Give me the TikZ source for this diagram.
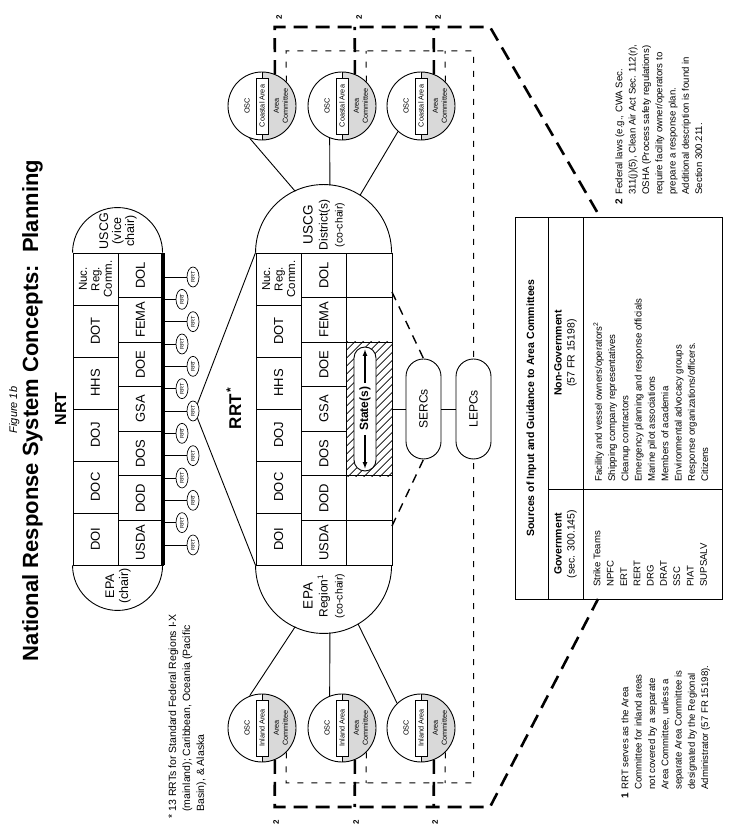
\documentclass[tikz,border=0pt]{standalone}
\usepackage{fontspec}
\setmainfont{Liberation Sans}
\usetikzlibrary{shapes.geometric, arrows}
\tikzstyle{cella} = [rectangle, draw=black, minimum width=52pt, minimum height=45pt, inner sep=0pt, align=center, font=\fontsize{13}{14}\selectfont, node distance=52pt]
\tikzstyle{cellb} = [cella, minimum width=44.57pt, node distance=44.57pt]
\tikzstyle{cellc} = [cella, minimum height=45.33pt]
\tikzstyle{celld} = [cellb, minimum height=45.33pt]
\tikzstyle{rrtnode} = [ellipse, draw=black, minimum width=20pt, minimum height=12pt, inner sep=0pt, line width=0.7pt, font=\fontsize{5.5}{5.5}\selectfont]
\tikzstyle{osc} = [circle, draw=black, minimum size=68pt, inner sep=0pt]
\tikzstyle{areabox} = [rectangle, draw=black, fill=white, minimum width=56pt, minimum height=12pt, inner sep=0pt, font=\fontsize{7.3}{7.3}\selectfont]
\tikzstyle{osclabel} = [align=center, inner sep=0pt, font=\fontsize{7.3}{9}\selectfont]
\tikzstyle{pill} = [rectangle, rounded corners=17.5pt, draw=black, minimum width=100pt, minimum height=35pt, font=\fontsize{12}{12}\selectfont]
\tikzstyle{hub} = [circle, minimum size=136pt, inner sep=0pt, outer sep=0pt]
\tikzstyle{tablecell} = [rectangle, draw=black, inner sep=0pt, align=center, font=\fontsize{10.5}{13}\selectfont]
\tikzstyle{note} = [align=left, anchor=north west, inner sep=0pt, font=\fontsize{9.6}{13.3}\selectfont]
\tikzstyle{fnmark} = [inner sep=0pt, font=\bfseries\fontsize{8}{8}\selectfont]
\tikzstyle{bigdash} = [line width=2.6pt, dash pattern=on 14pt off 8pt]
\tikzstyle{smalldash} = [line width=1pt, dash pattern=on 6pt off 8pt]
\tikzstyle{middash} = [line width=1.4pt, dash pattern=on 9pt off 7pt]

\begin{document}
\begin{tikzpicture}[x=1pt, y=1pt, rotate=90, transform shape, line width=0.9pt]
\useasboundingbox (0,-729) rectangle (832,0);

% headings
\node (fig) [anchor=base, font=\itshape\fontsize{11}{11}\selectfont] at (422,-17) {Figure 1b};
\node (title) [anchor=base, font=\bfseries\fontsize{22}{22}\selectfont] at (421.5,-38) {National Response System Concepts:\ \ Planning};
\node (nrtlabel) [anchor=base, font=\bfseries\fontsize{16}{16}\selectfont] at (423,-66) {NRT};

% NRT
\node (ndoi) [cella] at (293,-95.5) {DOI};
\node (ndoc) [cella, right of=ndoi] {DOC};
\node (ndoj) [cella, right of=ndoc] {DOJ};
\node (nhhs) [cella, right of=ndoj] {HHS};
\node (ndot) [cella, right of=nhhs] {DOT};
\node (nnuc) [cella, right of=ndot, font=\fontsize{11.5}{12.5}\selectfont] {Nuc.\\Reg.\\Comm.};
\node (nusda) [cellb] at (289.29,-140.5) {USDA};
\node (ndod) [cellb, right of=nusda] {DOD};
\node (ndos) [cellb, right of=ndod] {DOS};
\node (ngsa) [cellb, right of=ndos] {GSA};
\node (ndoe) [cellb, right of=ngsa] {DOE};
\node (nfema) [cellb, right of=ndoe] {FEMA};
\node (ndol) [cellb, right of=nfema] {DOL};
\draw (ndoi.north west) arc[start angle=90, end angle=270, radius=45];
\draw (nnuc.north east) arc[start angle=90, end angle=-90, radius=45];
\draw [line width=4pt] (nusda.south west) -- (ndol.south east);
\node (nepa) [align=center, font=\fontsize{12.5}{14}\selectfont] at (246,-118) {EPA\\(chair)};
\node (nuscg) [align=center, font=\fontsize{12.5}{13}\selectfont] at (601,-118) {USCG\\(vice\\chair)};

% the 13 RRTs
\foreach \k in {0,...,12} {
  \pgfmathsetmacro{\ru}{555-22.33*\k}
  \pgfmathsetmacro{\rt}{mod(\k,2)==0 ? -193 : -182}
  \pgfmathsetmacro{\rs}{mod(\k,2)==0 ? 24 : 13}
  \node (rrt\k) [rrtnode] at (\ru,\rt) {RRT};
  \draw (rrt\k.north) -- ++(0,\rs);
}

% RRT
\node (rrtlabel) [anchor=base, font=\bfseries\fontsize{17}{17}\selectfont] at (424,-241) {RRT\textsuperscript{\,*}};
\node (rdoi) [cellc] at (293,-278.67) {DOI};
\node (rdoc) [cellc, right of=rdoi] {DOC};
\node (rdoj) [cellc, right of=rdoc] {DOJ};
\node (rhhs) [cellc, right of=rdoj] {HHS};
\node (rdot) [cellc, right of=rhhs] {DOT};
\node (rnuc) [cellc, right of=rdot, font=\fontsize{11.5}{12.5}\selectfont] {Nuc.\\Reg.\\Comm.};
\node (rusda) [celld] at (289.29,-324) {USDA};
\node (rdod) [celld, right of=rusda] {DOD};
\node (rdos) [celld, right of=rdod] {DOS};
\node (rgsa) [celld, right of=rdos] {GSA};
\node (rdoe) [celld, right of=rgsa] {DOE};
\node (rfema) [celld, right of=rdoe] {FEMA};
\node (rdol) [celld, right of=rfema] {DOL};
\node (re1) [celld] at (289.29,-369.33) {};
\node (re2) [celld, right of=re1] {};
\node (stbox) [rectangle, draw=black, minimum width=133.71pt, minimum height=45.33pt, inner sep=0pt] at (423,-369.33) {};
\node (re6) [celld] at (512.14,-369.33) {};
\node (re7) [celld, right of=re6] {};
\begin{scope}
  \clip (stbox.south west) rectangle (stbox.north east);
  \foreach \a in {306,314,...,490} \draw [line width=0.6pt] (\a,-346.67) -- ++(46,-46);
\end{scope}
\draw [line width=1.6pt] (re1.south west) -- (re7.south east);
\draw (rdoi.north west) arc[start angle=90, end angle=270, radius=68];
\draw (rnuc.north east) arc[start angle=90, end angle=-90, radius=68];
\node (rhubl) [hub] at (267,-324) {};
\node (rhubr) [hub] at (579,-324) {};
\node (repa) [align=center, font=\fontsize{12}{15}\selectfont] at (236,-324) {{\fontsize{13.5}{15}\selectfont EPA}\\Region\textsuperscript{1}\\{\fontsize{10.5}{15}\selectfont (co-chair)}};
\node (ruscg) [align=center, font=\fontsize{12}{15}\selectfont] at (607,-324) {{\fontsize{13.5}{15}\selectfont USCG}\\District(s)\\{\fontsize{10.5}{15}\selectfont (co-chair)}};
\draw (rrt6.south west) -- (rdoi.north west);
\draw (rrt6.south east) -- (rnuc.north east);

% State(s), SERCs, LEPCs
\node (state) [rectangle, rounded corners=11pt, draw=black, fill=white, minimum width=124pt, minimum height=22pt, inner sep=0pt] at (423,-365) {};
\node (stxt) [font=\bfseries\fontsize{12}{12}\selectfont] at (423,-365) {State(s)};
\draw [-latex, line width=1.2pt, shorten >=3pt] (stxt) -- (state.west);
\draw [-latex, line width=1.2pt, shorten >=3pt] (stxt) -- (state.east);
\node (serc) [pill] at (423,-423.5) {SERCs};
\node (lepc) [pill] at (423,-473.5) {LEPCs};
\draw (stbox.south) -- (serc.north);
\draw (serc.south) -- (lepc.north);
\coordinate (dsa) at (540,-392);
\coordinate (dsb) at (306,-392);
\draw [middash] (dsa) -- (serc.east);
\draw [middash] (dsb) -- (serc.west);

% OSC circles
\foreach \cy/\ci in {-262/1, -342/2, -421/3} {
  \fill [gray!30] (726,\cy) ++(-34,0) arc[start angle=180, end angle=360, radius=34] -- cycle;
  \node (cst\ci) [osc] at (726,\cy) {};
  \draw (cst\ci.west) -- (cst\ci.east);
  \node [areabox] at (726,\cy) {Coastal Area};
  \node [osclabel] at (726,{\cy+15}) {OSC};
  \node [osclabel] at (726,{\cy-19}) {Area\\Committee};
  \fill [gray!30] (104,\cy) ++(-34,0) arc[start angle=180, end angle=360, radius=34] -- cycle;
  \node (inl\ci) [osc] at (104,\cy) {};
  \draw (inl\ci.west) -- (inl\ci.east);
  \node [areabox] at (104,\cy) {Inland Area};
  \node [osclabel] at (104,{\cy+15}) {OSC};
  \node [osclabel] at (104,{\cy-19}) {Area\\Committee};
  \coordinate (tk\ci) at (805,{\cy-12.7});
  \coordinate (tn\ci) at (781,{\cy-24});
  \coordinate (bk\ci) at (25,{\cy-12.7});
  \coordinate (bn\ci) at (49,{\cy-24});
  \node [fnmark] at (815,{\cy-17}) {2};
  \node [fnmark] at (10,{\cy-14}) {2};
}
\draw (rhubr.25) -- (cst1.159);
\draw (rhubr.-5) -- (cst2.159);
\draw (rhubr.-32) -- (cst3.138);
\draw (rhubl.155) -- (inl1.21);
\draw (rhubl.185) -- (inl2.21);
\draw (rhubl.210) -- (inl3.44);

% table
\node (tbltitle) [tablecell, minimum width=382pt, minimum height=33pt, font=\bfseries\fontsize{10.5}{13}\selectfont] at (424,-531.5) {Sources of Input and Guidance to Area Committees};
\node (govhead) [tablecell, minimum width=110pt, minimum height=35pt] at (288,-565.5) {\textbf{Government}\\(sec. 300.145)};
\node (ngovhead) [tablecell, minimum width=272pt, minimum height=35pt] at (479,-565.5) {\textbf{Non-Government}\\(57 FR 15198)};
\node (govbody) [tablecell, minimum width=110pt, minimum height=139pt] at (288,-652.5) {};
\node (ngovbody) [tablecell, minimum width=272pt, minimum height=139pt] at (479,-652.5) {};
\node (govlist) [note] at (245,-593) {Strike Teams\\NPFC\\ERT\\RERT\\DRG\\DRAT\\SSC\\PIAT\\SUPSALV};
\node (ngovlist) [note] at (350,-593) {Facility and vessel owners/operators\textsuperscript{2}\\Shipping company representatives\\Cleanup contractors\\Emergency planning and response officials\\Marine pilot associations\\Members of academia\\Environmental advocacy groups\\Response organizations/officers.\\Citizens};

% dashed links
\coordinate (tkc) at (805,-490);
\coordinate (tke) at (615,-600);
\coordinate (bkc) at (25,-490);
\coordinate (bke) at (233,-598);
\coordinate (tnc) at (781,-473.5);
\coordinate (bnc) at (49,-473.5);
\draw [bigdash] (cst1.-22) -- (tk1) -- (tkc) -- (tke);
\draw [bigdash] (cst2.-22) -- (tk2);
\draw [bigdash] (cst3.-22) -- (tk3);
\draw [smalldash] (cst1.-45) -- (tn1) -- (tnc) -- (lepc.east);
\draw [smalldash] (cst2.-45) -- (tn2);
\draw [smalldash] (cst3.-45) -- (tn3);
\draw [bigdash] (inl1.202) -- (bk1) -- (bkc) -- (bke);
\draw [bigdash] (inl2.202) -- (bk2);
\draw [bigdash] (inl3.202) -- (bk3);
\draw [smalldash] (inl1.225) -- (bn1) -- (bnc) -- (lepc.west);
\draw [smalldash] (inl2.225) -- (bn2);
\draw [smalldash] (inl3.225) -- (bn3);

% footnotes
\node (fnstar) [note, font=\fontsize{10.5}{14}\selectfont] at (20,-168) {13 RRTs for Standard Federal Regions I-X\\(mainland); Caribbean, Oceania (Pacific\\Basin), \& Alaska};
\node [anchor=north east, inner sep=0pt, font=\fontsize{10.5}{14}\selectfont] at (fnstar.north west) {*\,};
\node (fnone) [note] at (42,-621) {RRT serves as the Area\\Committee for inland areas\\not covered by a separate\\Area Committee, unless a\\separate Area Committee is\\designated by the Regional\\Administrator (57 FR 15198).};
\node [anchor=north east, inner sep=0pt, font=\bfseries\fontsize{10}{10}\selectfont] at (40,-621) {1};
\node (fntwo) [note] at (637,-615) {Federal laws (e.g., CWA Sec.\\311(j)(5), Clean Air Act Sec. 112(r),\\OSHA (Process safety regulations)\\require facility owner/operators to\\prepare a response plan.\\Additional description is found in\\Section 300.211.};
\node [anchor=north east, inner sep=0pt, font=\bfseries\fontsize{10}{10}\selectfont] at (634,-615) {2};
\end{tikzpicture}
\end{document}
